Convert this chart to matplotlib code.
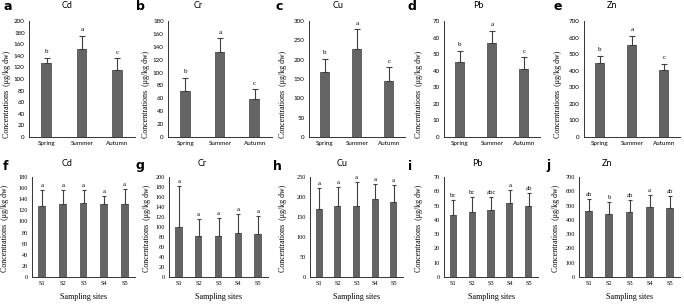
import matplotlib
matplotlib.use("Agg")
import matplotlib.pyplot as plt
import numpy as np

# ---------------- data ----------------
seasons = ["Spring", "Summer", "Autumn"]
sites = ["S1", "S2", "S3", "S4", "S5"]
metals = ["Cd", "Cr", "Cu", "Pb", "Zn"]

season_cd = [127, 152, 116]
season_cd_err = [10, 23, 20]
season_cr = [72, 132, 59]
season_cr_err = [20, 21, 15]
season_cu = [168, 227, 146]
season_cu_err = [34, 52, 34]
season_pb = [45, 57, 41]
season_pb_err = [7, 7, 7]
season_zn = [445, 558, 402]
season_zn_err = [45, 52, 41]
season_letters = ["b", "a", "c"]

site_cd = [128, 131, 133, 131, 132]
site_cd_err = [29, 26, 24, 15, 26]
site_cr = [100, 83, 83, 88, 86]
site_cr_err = [82, 34, 35, 38, 36]
site_cu = [171, 177, 177, 194, 187]
site_cu_err = [52, 47, 60, 38, 44]
site_pb = [43.5, 45.5, 47, 51.5, 49.5]
site_pb_err = [10.5, 10.5, 9, 9.5, 9.5]
site_zn = [465, 443, 458, 487, 482]
site_zn_err = [78, 80, 82, 86, 83]
site_letters_cd = ["a", "a", "a", "a", "a"]
site_letters_cr = ["a", "a", "a", "a", "a"]
site_letters_cu = ["a", "a", "a", "a", "a"]
site_letters_pb = ["bc", "bc", "abc", "a", "ab"]
site_letters_zn = ["ab", "b", "ab", "a", "ab"]

season_vals = [season_cd, season_cr, season_cu, season_pb, season_zn]
season_errs = [season_cd_err, season_cr_err, season_cu_err, season_pb_err, season_zn_err]
site_vals = [site_cd, site_cr, site_cu, site_pb, site_zn]
site_errs = [site_cd_err, site_cr_err, site_cu_err, site_pb_err, site_zn_err]
site_letters = [site_letters_cd, site_letters_cr, site_letters_cu, site_letters_pb, site_letters_zn]

top_ymax = [200, 180, 300, 70, 700]
top_ystep = [20, 20, 50, 10, 100]
bot_ymax = [180, 200, 250, 70, 700]
bot_ystep = [20, 20, 50, 10, 100]
top_panels = ["a", "b", "c", "d", "e"]
bot_panels = ["f", "g", "h", "i", "j"]

# ---------------- layout (pixels) ----------------
W, H = 684, 306
fig = plt.figure(figsize=(W / 100, H / 100), dpi=100)

def px_axes(x0, x1, ytop, ybot):
    return fig.add_axes([x0 / W, 1 - ybot / H, (x1 - x0) / W, (ybot - ytop) / H])

top_x = [(29, 135), (168, 272), (309, 405), (444, 540), (584, 680)]
bot_x = [(32, 135), (169, 268), (310, 403), (444, 538), (579, 680)]
top_letter_x = [3, 136, 275, 408, 553]
top_title_x = [67, 198, 338, 478, 612]
top_ylab_x = [7, 146, 283, 419, 558]
bot_letter_x = [3, 136, 273, 408, 546]
bot_title_x = [67, 202, 342, 477, 607]
bot_ylab_x = [5, 147, 283, 419, 556]

bar_color = "#646464"
err_color = "#404040"
serif = "Liberation Serif"
sans = "Lato"

def style(ax, ymax, step, tickfont):
    ax.set_ylim(0, ymax)
    ax.set_yticks(np.arange(0, ymax + 0.1, step))
    for s in ["top", "right"]:
        ax.spines[s].set_visible(False)
    for s in ["left", "bottom"]:
        ax.spines[s].set_color("#333333")
        ax.spines[s].set_linewidth(0.7)
    ax.tick_params(axis="y", length=0, labelsize=4.5, pad=3)
    ax.tick_params(axis="x", length=0, labelsize=4.5, pad=3)
    for lab in ax.get_yticklabels() + ax.get_xticklabels():
        lab.set_family(tickfont)

def ftext(x, y, s, **kw):
    fig.text(x / W, 1 - y / H, s, **kw)

ylab = "Concentrations  (μg/kg dw)"

for i in range(5):
    ax = px_axes(top_x[i][0], top_x[i][1], 21, 137)
    xs = np.arange(len(seasons))
    vals = season_vals[i]
    errs = season_errs[i]
    ax.bar(xs, vals, width=0.3, color=bar_color)
    ax.errorbar(xs, vals, yerr=[np.zeros(len(vals)), errs], fmt="none",
                ecolor=err_color, elinewidth=0.8, capsize=2, capthick=0.8)
    for x, v, e, l in zip(xs, vals, errs, season_letters):
        ax.text(x, v + e + top_ymax[i] * 0.03, l, ha="center", va="bottom",
                fontsize=5, family=serif)
    ax.set_xlim(-0.5, 2.5)
    ax.set_xticks(xs)
    ax.set_xticklabels(seasons)
    style(ax, top_ymax[i], top_ystep[i], sans)
    ftext(top_letter_x[i], 7, top_panels[i], fontsize=9, fontweight="bold",
          family="DejaVu Sans", ha="left", va="center")
    ftext(top_title_x[i], 6, metals[i], fontsize=6.5, family=sans, ha="center", va="center")
    ftext(top_ylab_x[i], 94, ylab, fontsize=5.7, family=serif,
          rotation=90, ha="center", va="center")

for i in range(5):
    ax = px_axes(bot_x[i][0], bot_x[i][1], 177, 277)
    xs = np.arange(len(sites))
    vals = site_vals[i]
    errs = site_errs[i]
    ax.bar(xs, vals, width=0.38, color=bar_color)
    ax.errorbar(xs, vals, yerr=[np.zeros(len(vals)), errs], fmt="none",
                ecolor=err_color, elinewidth=0.8, capsize=1.5, capthick=0.8)
    for x, v, e, l in zip(xs, vals, errs, site_letters[i]):
        ax.text(x, v + e + bot_ymax[i] * 0.02, l, ha="center", va="bottom",
                fontsize=4.8, family=serif)
    ax.set_xlim(-0.5, 4.5)
    ax.set_xticks(xs)
    ax.set_xticklabels(sites)
    style(ax, bot_ymax[i], bot_ystep[i], serif)
    ax.set_xlabel("Sampling sites", fontsize=5.8, family=serif, labelpad=5)
    ftext(bot_letter_x[i], 166, bot_panels[i], fontsize=9, fontweight="bold",
          family="DejaVu Sans", ha="left", va="center")
    ftext(bot_title_x[i], 163, metals[i], fontsize=6.5, family=sans, ha="center", va="center")
    ftext(bot_ylab_x[i], 228, ylab, fontsize=5.7, family=serif,
          rotation=90, ha="center", va="center")

fig.savefig("out.png", dpi=100)
